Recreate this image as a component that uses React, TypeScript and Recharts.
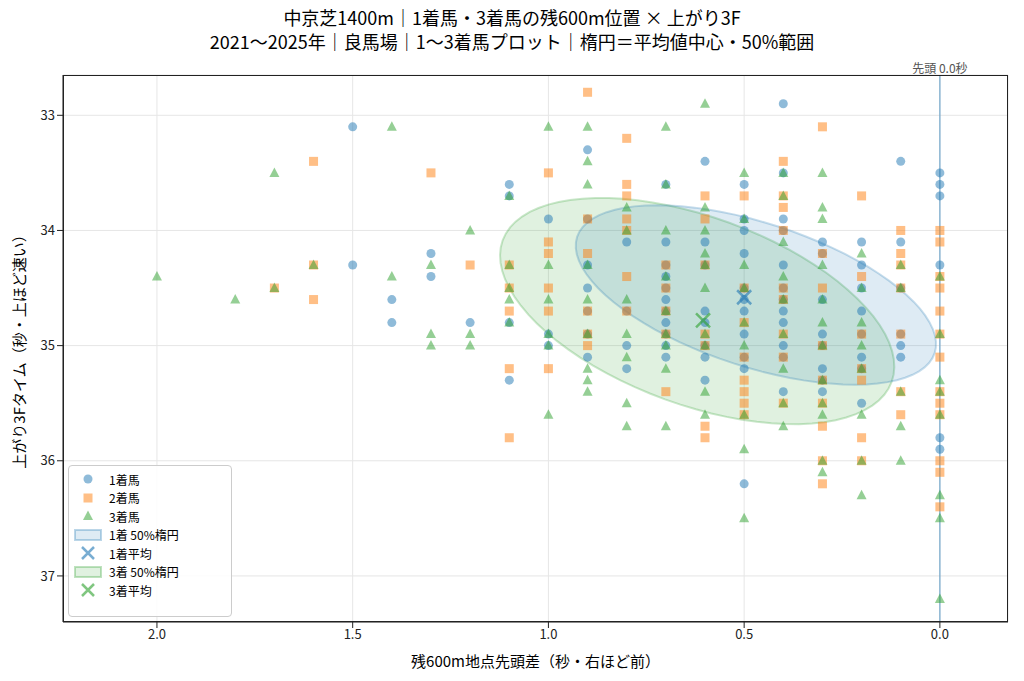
import React from "react"
import {
  ScatterChart,
  Scatter,
  XAxis,
  YAxis,
  CartesianGrid,
  ReferenceLine,
} from "recharts"

const FONT = '"Noto Sans CJK JP", "Noto Sans", sans-serif'

// [残600m先頭差, 上がり3F]
const first: number[][] = [
  [1.5, 33.1], [1.5, 34.3], [1.4, 34.6], [1.4, 34.8], [1.3, 34.2], [1.3, 34.4], [1.2, 34.8],
  [1.1, 33.6], [1.1, 33.7], [1.1, 34.8], [1.1, 35.3], [1.0, 33.9], [1.0, 34.9], [1.0, 35.0],
  [0.9, 33.3], [0.9, 33.9], [0.9, 34.3], [0.9, 34.5], [0.9, 34.7], [0.9, 34.9], [0.9, 35.1],
  [0.8, 34.1], [0.8, 34.7], [0.8, 35.0], [0.8, 35.2],
  [0.7, 33.6], [0.7, 34.1], [0.7, 34.3], [0.7, 34.4], [0.7, 34.5], [0.7, 34.6], [0.7, 34.7], [0.7, 34.8], [0.7, 34.9], [0.7, 35.0], [0.7, 35.1],
  [0.6, 33.4], [0.6, 34.1], [0.6, 34.3], [0.6, 34.7], [0.6, 34.8], [0.6, 35.0], [0.6, 35.1], [0.6, 35.3],
  [0.5, 33.6], [0.5, 33.9], [0.5, 34.0], [0.5, 34.2], [0.5, 34.5], [0.5, 34.6], [0.5, 34.7], [0.5, 34.9], [0.5, 35.1], [0.5, 35.2], [0.5, 36.2],
  [0.4, 32.9], [0.4, 33.5], [0.4, 33.9], [0.4, 34.0], [0.4, 34.3], [0.4, 34.5], [0.4, 34.6], [0.4, 34.7], [0.4, 34.8], [0.4, 35.0], [0.4, 35.1], [0.4, 35.4],
  [0.3, 34.1], [0.3, 34.2], [0.3, 34.6], [0.3, 34.9], [0.3, 35.0], [0.3, 35.2], [0.3, 35.3], [0.3, 35.4],
  [0.2, 34.1], [0.2, 34.3], [0.2, 34.5], [0.2, 34.7], [0.2, 34.9], [0.2, 35.1], [0.2, 35.2], [0.2, 35.5],
  [0.1, 33.4], [0.1, 34.1], [0.1, 34.5], [0.1, 34.9], [0.1, 35.0], [0.1, 35.1],
  [0.0, 33.5], [0.0, 33.6], [0.0, 33.7], [0.0, 34.3], [0.0, 35.8], [0.0, 35.9],
]

const second: number[][] = [
  [1.7, 34.5], [1.6, 33.4], [1.6, 34.3], [1.6, 34.6], [1.3, 33.5], [1.2, 34.3],
  [1.1, 34.3], [1.1, 34.5], [1.1, 34.7], [1.1, 35.2], [1.1, 35.8],
  [1.0, 33.5], [1.0, 34.1], [1.0, 34.2], [1.0, 34.5], [1.0, 34.7], [1.0, 35.2],
  [0.9, 32.8], [0.9, 33.9], [0.9, 34.2], [0.9, 34.7], [0.9, 34.9], [0.9, 35.0],
  [0.8, 33.2], [0.8, 33.6], [0.8, 33.7], [0.8, 33.9], [0.8, 34.0], [0.8, 34.4], [0.8, 34.7],
  [0.7, 34.3], [0.7, 34.5], [0.7, 34.7], [0.7, 34.9], [0.7, 35.4],
  [0.6, 33.7], [0.6, 33.9], [0.6, 34.3], [0.6, 34.9], [0.6, 35.0], [0.6, 35.7], [0.6, 35.8],
  [0.5, 33.7], [0.5, 34.5], [0.5, 34.8], [0.5, 35.1], [0.5, 35.3], [0.5, 35.4], [0.5, 35.5], [0.5, 35.6],
  [0.4, 33.4], [0.4, 33.7], [0.4, 33.8], [0.4, 34.0], [0.4, 34.5], [0.4, 34.6], [0.4, 34.9], [0.4, 35.1], [0.4, 35.5],
  [0.3, 33.1], [0.3, 34.2], [0.3, 34.5], [0.3, 35.0], [0.3, 35.3], [0.3, 35.5], [0.3, 35.7], [0.3, 36.0], [0.3, 36.2],
  [0.2, 33.7], [0.2, 34.4], [0.2, 34.9], [0.2, 35.2], [0.2, 35.3], [0.2, 35.8], [0.2, 36.0],
  [0.1, 34.0], [0.1, 34.2], [0.1, 34.3], [0.1, 34.5], [0.1, 34.9], [0.1, 35.4], [0.1, 35.6],
  [0.0, 34.0], [0.0, 34.1], [0.0, 34.4], [0.0, 34.5], [0.0, 34.7], [0.0, 34.9], [0.0, 35.1], [0.0, 35.4], [0.0, 35.5], [0.0, 35.6], [0.0, 36.0], [0.0, 36.1], [0.0, 36.4],
]

const third: number[][] = [
  [2.0, 34.4], [1.8, 34.6], [1.7, 33.5], [1.7, 34.5], [1.6, 34.3], [1.4, 33.1], [1.4, 34.4],
  [1.3, 34.3], [1.3, 34.9], [1.3, 35.0], [1.2, 34.0], [1.2, 34.9], [1.2, 35.0],
  [1.1, 33.7], [1.1, 34.3], [1.1, 34.5], [1.1, 34.6], [1.1, 34.8],
  [1.0, 33.1], [1.0, 34.3], [1.0, 34.6], [1.0, 34.9], [1.0, 35.0], [1.0, 35.6],
  [0.9, 33.1], [0.9, 33.4], [0.9, 33.6], [0.9, 34.3], [0.9, 34.6], [0.9, 34.9], [0.9, 35.2], [0.9, 35.3], [0.9, 35.4],
  [0.8, 33.8], [0.8, 34.0], [0.8, 34.6], [0.8, 34.9], [0.8, 35.1], [0.8, 35.5], [0.8, 35.7],
  [0.7, 33.1], [0.7, 33.6], [0.7, 34.0], [0.7, 34.4], [0.7, 34.7], [0.7, 34.9], [0.7, 35.0], [0.7, 35.2], [0.7, 35.7],
  [0.6, 32.9], [0.6, 33.8], [0.6, 34.0], [0.6, 34.2], [0.6, 34.3], [0.6, 34.5], [0.6, 34.9], [0.6, 35.0], [0.6, 35.4], [0.6, 35.6],
  [0.5, 33.5], [0.5, 33.9], [0.5, 34.3], [0.5, 34.5], [0.5, 34.8], [0.5, 35.0], [0.5, 35.6], [0.5, 35.9], [0.5, 36.5],
  [0.4, 33.5], [0.4, 33.7], [0.4, 34.1], [0.4, 34.4], [0.4, 34.6], [0.4, 34.9], [0.4, 35.2], [0.4, 35.5], [0.4, 35.7],
  [0.3, 33.5], [0.3, 33.8], [0.3, 33.9], [0.3, 34.3], [0.3, 34.6], [0.3, 34.8], [0.3, 35.0], [0.3, 35.3], [0.3, 35.5], [0.3, 35.6], [0.3, 36.0], [0.3, 36.1],
  [0.2, 34.2], [0.2, 34.5], [0.2, 34.8], [0.2, 35.0], [0.2, 35.2], [0.2, 35.6], [0.2, 36.0], [0.2, 36.3],
  [0.1, 34.3], [0.1, 34.5], [0.1, 35.4], [0.1, 35.7], [0.1, 36.0],
  [0.0, 34.4], [0.0, 34.9], [0.0, 35.3], [0.0, 35.4], [0.0, 35.6], [0.0, 36.3], [0.0, 36.5], [0.0, 37.2],
]

const firstMean = [0.5, 34.58]
const thirdMean = [0.605, 34.78]

// ellipse: center x, center y, semi-axes in px, tilt in degrees
const firstEllipse = { cx: 0.47, cy: 34.56, a: 188, b: 72, deg: 18 }
const thirdEllipse = { cx: 0.62, cy: 34.7, a: 207, b: 94, deg: 20 }

const xTicks = [2.0, 1.5, 1.0, 0.5, 0.0]
const yTicks = [33, 34, 35, 36, 37]

const PX_X = 391.5
const PX_Y = 115.25

function ellipsePts(e: typeof firstEllipse) {
  const t = (e.deg * Math.PI) / 180
  const pts = []
  for (let i = 0; i <= 80; i++) {
    const u = (i / 80) * 2 * Math.PI
    const dx = e.a * Math.cos(u) * Math.cos(t) - e.b * Math.sin(u) * Math.sin(t)
    const dy = e.a * Math.cos(u) * Math.sin(t) + e.b * Math.sin(u) * Math.cos(t)
    pts.push({ x: e.cx - dx / PX_X, y: e.cy + dy / PX_Y })
  }
  return pts
}

const toPts = (arr: number[][]) => arr.map(([x, y]) => ({ x, y }))

const Square = (p: any) => (
  <rect x={p.cx - 4.5} y={p.cy - 4.5} width={9} height={9} fill="#ff7f0e" fillOpacity={0.5} />
)
const Circle = (p: any) => <circle cx={p.cx} cy={p.cy} r={4.5} fill="#1f77b4" fillOpacity={0.5} />
const Tri = (p: any) => (
  <path d={`M${p.cx},${p.cy - 5.5}L${p.cx + 5},${p.cy + 4}L${p.cx - 5},${p.cy + 4}Z`} fill="#2ca02c" fillOpacity={0.5} />
)
const mkX = (color: string) => (p: any) => (
  <path
    d={`M${p.cx - 7},${p.cy - 7}L${p.cx + 7},${p.cy + 7}M${p.cx - 7},${p.cy + 7}L${p.cx + 7},${p.cy - 7}`}
    stroke={color}
    strokeWidth={2.5}
    strokeOpacity={0.6}
  />
)
const None = () => <g />

function LegendRow({ icon, label }: { icon: React.ReactNode; label: string }) {
  return (
    <div style={{ display: "flex", alignItems: "center", height: 18.5 }}>
      <svg width={30} height={16} style={{ marginRight: 6 }}>{icon}</svg>
      <span>{label}</span>
    </div>
  )
}

export default function App() {
  return (
    <div style={{ position: "absolute", left: 0, top: 0, width: 1024, height: 681, background: "#fff", fontFamily: FONT }}>
      <div style={{ position: "absolute", top: 5, width: 1024, textAlign: "center", fontSize: 18, lineHeight: "24px", color: "#000" }}>
        中京芝1400m｜1着馬・3着馬の残600m位置 × 上がり3F
        <br />
        2021〜2025年｜良馬場｜1〜3着馬プロット｜楕円＝平均値中心・50%範囲
      </div>
      <ScatterChart width={1024} height={681} margin={{ top: 75, right: 16, bottom: 29, left: 23 }} style={{ position: "absolute", top: 0, left: 0 }}>
        <CartesianGrid stroke="#e6e6e6" />
        <XAxis
          type="number"
          dataKey="x"
          domain={[-0.174, 2.24]}
          reversed
          ticks={xTicks}
          tickFormatter={(v: number) => v.toFixed(1)}
          allowDataOverflow
          height={30}
          tick={{ fontSize: 13, fill: "#222", fontFamily: FONT }}
          stroke="#222"
        />
        <YAxis
          type="number"
          dataKey="y"
          domain={[32.65, 37.4]}
          reversed
          ticks={yTicks}
          allowDataOverflow
          width={40}
          tick={{ fontSize: 13, fill: "#222", fontFamily: FONT }}
          stroke="#222"
        />
        <Scatter data={ellipsePts(thirdEllipse)} shape={None} line={{ fill: "#2ca02c", fillOpacity: 0.15, stroke: "#2ca02c", strokeOpacity: 0.25, strokeWidth: 2 }} isAnimationActive={false} />
        <Scatter data={ellipsePts(firstEllipse)} shape={None} line={{ fill: "#1f77b4", fillOpacity: 0.15, stroke: "#1f77b4", strokeOpacity: 0.25, strokeWidth: 2 }} isAnimationActive={false} />
        <ReferenceLine x={0} stroke="#1f77b4" strokeOpacity={0.6} strokeWidth={1.2}
          label={{ value: "先頭 0.0秒", position: "top", fontSize: 12, fill: "#555", fontFamily: FONT, offset: 2 }} />
        <Scatter data={toPts(first)} shape={Circle} isAnimationActive={false} />
        <Scatter data={toPts(second)} shape={Square} isAnimationActive={false} />
        <Scatter data={toPts(third)} shape={Tri} isAnimationActive={false} />
        <Scatter data={[{ x: firstMean[0], y: firstMean[1] }]} shape={mkX("#1f77b4")} isAnimationActive={false} />
        <Scatter data={[{ x: thirdMean[0], y: thirdMean[1] }]} shape={mkX("#2ca02c")} isAnimationActive={false} />
      </ScatterChart>
      <div style={{ position: "absolute", left: 63, top: 75, width: 945, height: 547, border: "1px solid #222", boxSizing: "border-box", pointerEvents: "none" }} />
      <div style={{ position: "absolute", left: 63, top: 650, width: 945, textAlign: "center", fontSize: 15 }}>
        残600m地点先頭差（秒・右ほど前）
      </div>
      <div style={{ position: "absolute", left: 18, top: 348, transform: "translate(-50%, -50%) rotate(-90deg)", whiteSpace: "nowrap", fontSize: 15 }}>
        上がり3Fタイム（秒・上ほど速い）
      </div>
      <div style={{ position: "absolute", left: 68, top: 465, width: 164, height: 152, border: "1px solid #ccc", borderRadius: 4, background: "rgba(255,255,255,0.85)", fontSize: 12, padding: "4px 0 0 4px", boxSizing: "border-box" }}>
        <LegendRow icon={<circle cx={15} cy={8} r={4.5} fill="#1f77b4" fillOpacity={0.5} />} label="1着馬" />
        <LegendRow icon={<rect x={10.5} y={3.5} width={9} height={9} fill="#ff7f0e" fillOpacity={0.5} />} label="2着馬" />
        <LegendRow icon={<path d="M15,2.5L20,12L10,12Z" fill="#2ca02c" fillOpacity={0.5} />} label="3着馬" />
        <LegendRow icon={<rect x={2} y={3} width={26} height={10} fill="#1f77b4" fillOpacity={0.15} stroke="#1f77b4" strokeOpacity={0.3} strokeWidth={2} />} label="1着 50%楕円" />
        <LegendRow icon={<path d="M9,2L21,14M9,14L21,2" stroke="#1f77b4" strokeOpacity={0.6} strokeWidth={2.5} />} label="1着平均" />
        <LegendRow icon={<rect x={2} y={3} width={26} height={10} fill="#2ca02c" fillOpacity={0.15} stroke="#2ca02c" strokeOpacity={0.3} strokeWidth={2} />} label="3着 50%楕円" />
        <LegendRow icon={<path d="M9,2L21,14M9,14L21,2" stroke="#2ca02c" strokeOpacity={0.6} strokeWidth={2.5} />} label="3着平均" />
      </div>
    </div>
  )
}
